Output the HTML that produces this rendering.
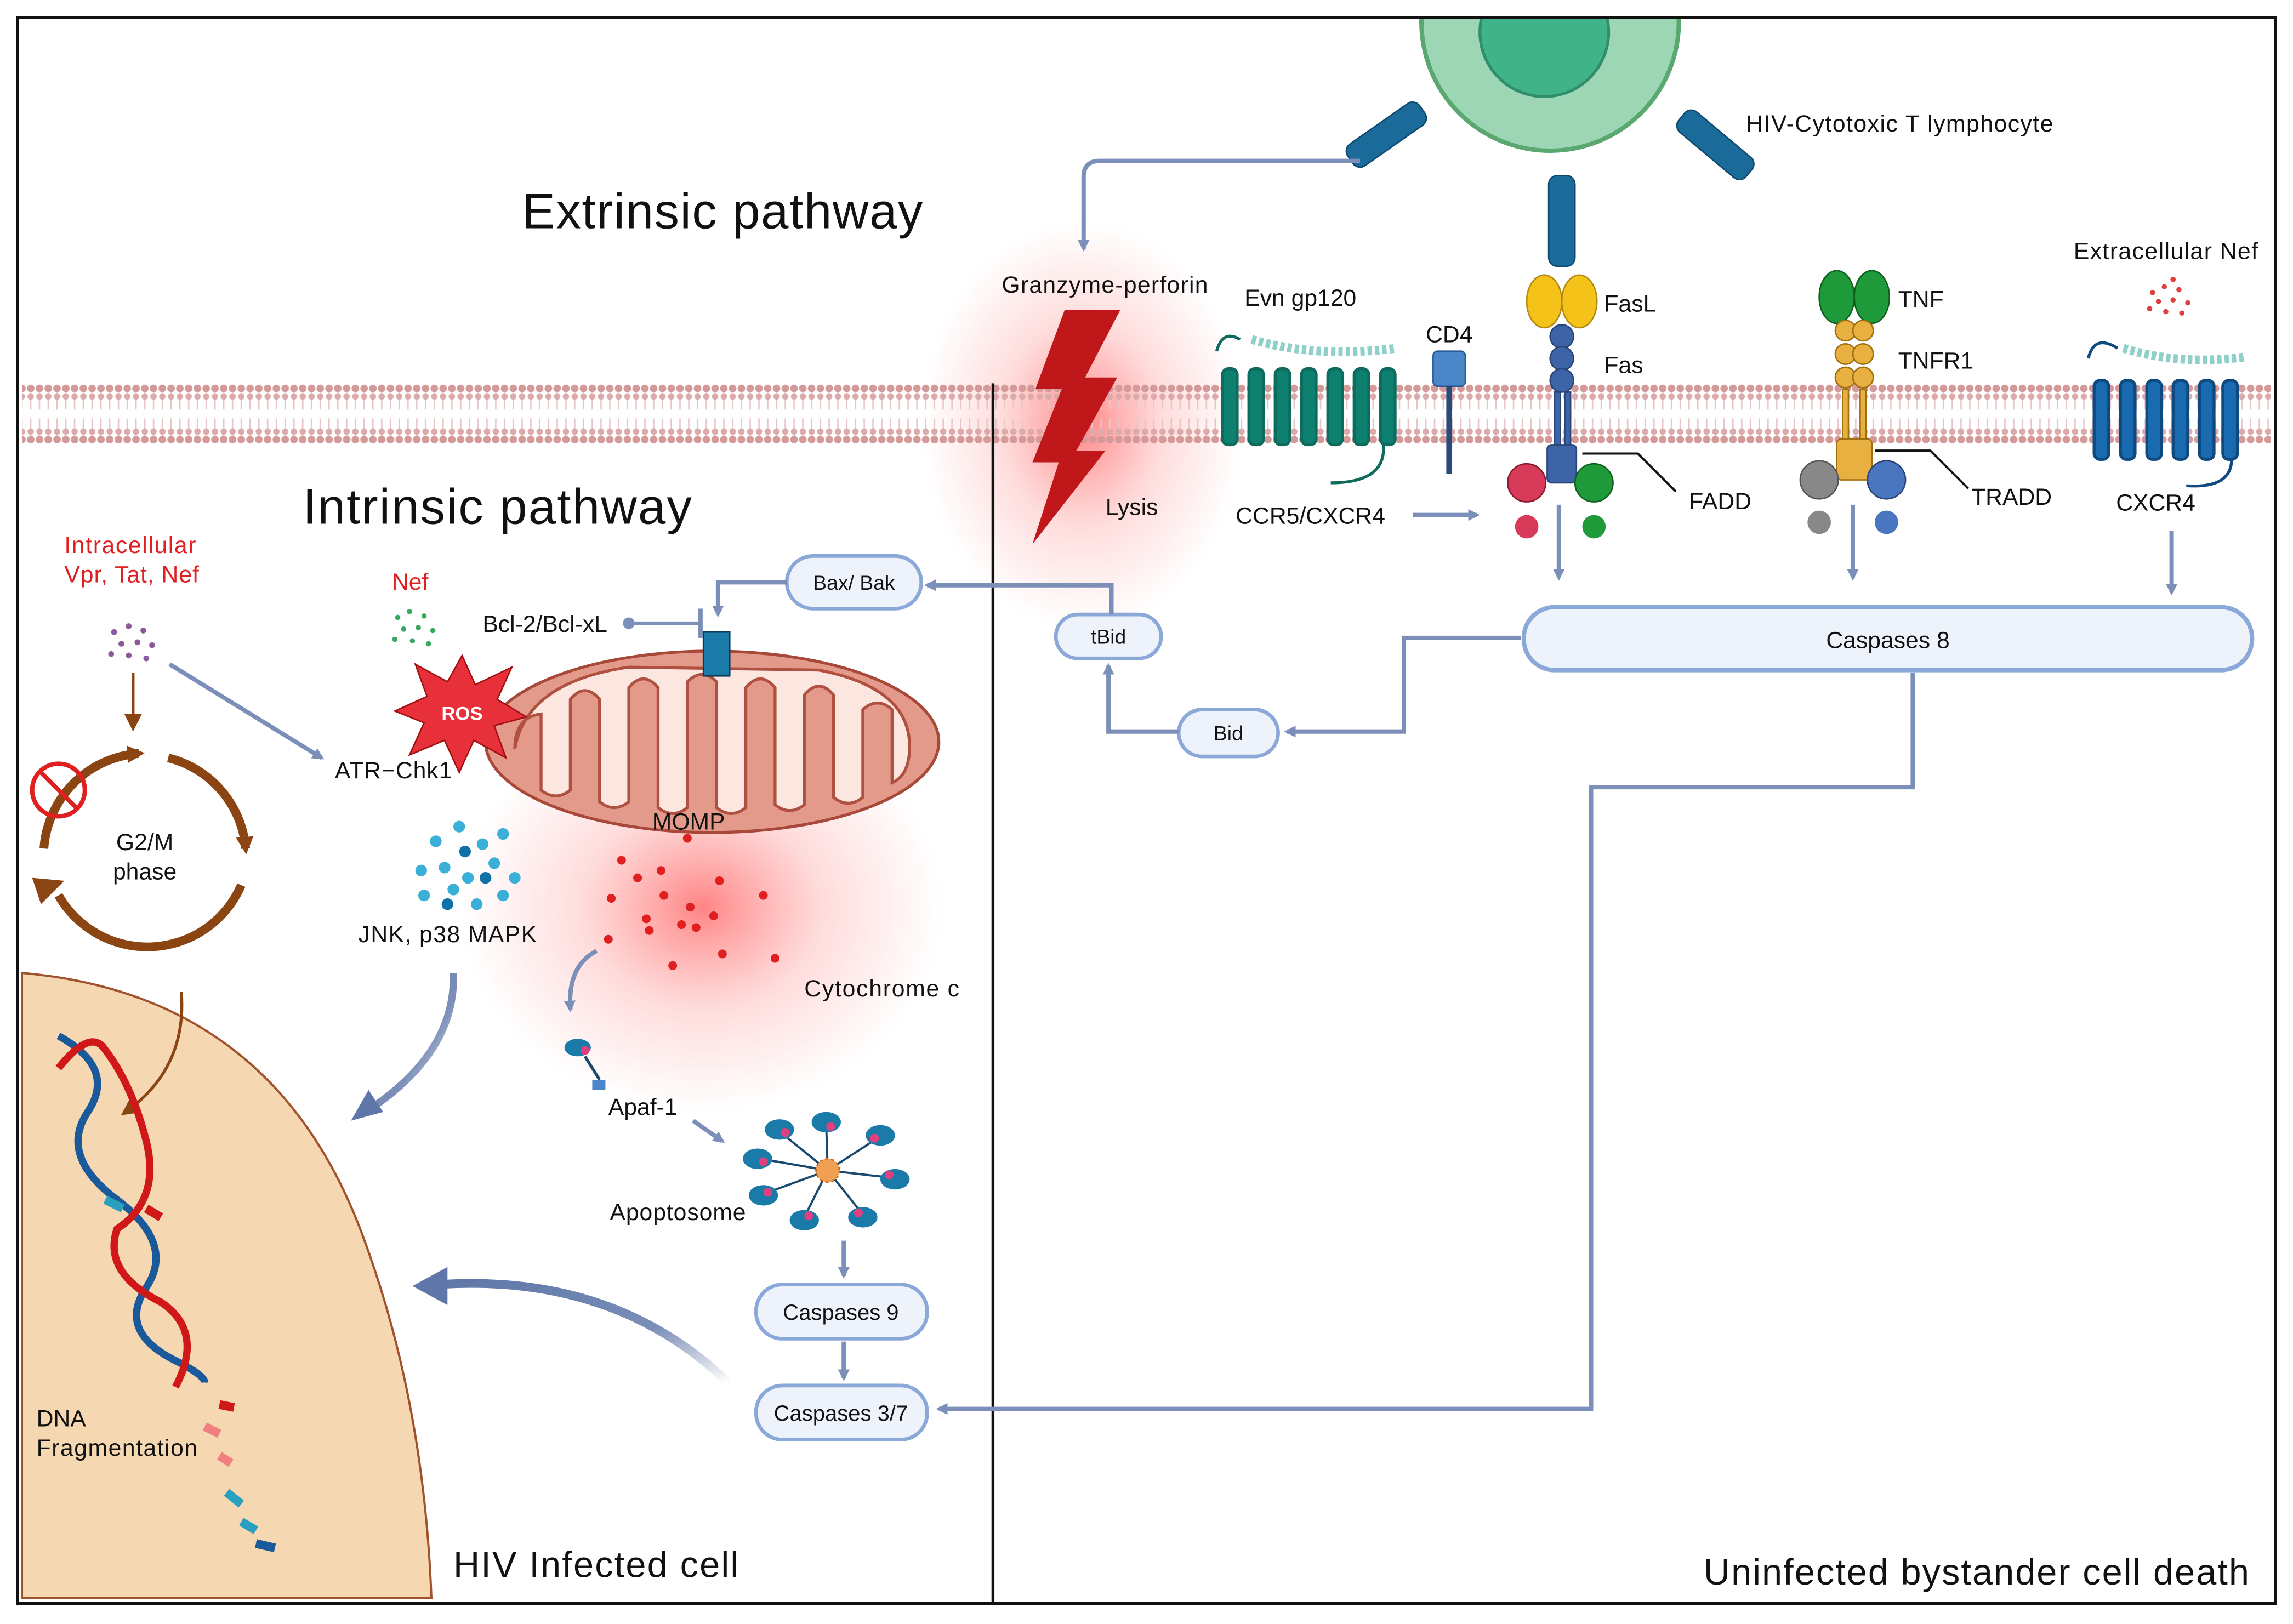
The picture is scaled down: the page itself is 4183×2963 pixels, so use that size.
<!DOCTYPE html>
<html><head><meta charset="utf-8"><style>
html,body{margin:0;padding:0;background:#fff;width:4183px;height:2963px;overflow:hidden}
svg{display:block}
text{font-family:"Liberation Sans",sans-serif;fill:#111}
</style></head><body>
<svg width="4183" height="2963" viewBox="0 0 1568 1110" preserveAspectRatio="none" xmlns="http://www.w3.org/2000/svg">
<defs>
<pattern id="mem" x="0" y="262" width="6" height="42" patternUnits="userSpaceOnUse">
<line x1="3" y1="5" x2="3" y2="18" stroke="#e9c6c6" stroke-width="1"/>
<line x1="3" y1="24" x2="3" y2="37" stroke="#e9c6c6" stroke-width="1"/>
<circle cx="3" cy="3.5" r="2.6" fill="#d49a9a"/>
<circle cx="3" cy="9" r="2.2" fill="#dcaaaa"/>
<circle cx="3" cy="33" r="2.2" fill="#dcaaaa"/>
<circle cx="3" cy="38.5" r="2.6" fill="#d49a9a"/>
</pattern>
<radialGradient id="glow"><stop offset="0" stop-color="#ff2020" stop-opacity=".55"/><stop offset=".5" stop-color="#ff5050" stop-opacity=".2"/><stop offset="1" stop-color="#ff6060" stop-opacity="0"/></radialGradient>
<marker id="ar" markerWidth="8" markerHeight="8" refX="6" refY="4" orient="auto" markerUnits="userSpaceOnUse"><path d="M0,0 L8,4 L0,8 z" fill="#7b8fb8"/></marker>
<marker id="arB" markerWidth="12" markerHeight="12" refX="8" refY="6" orient="auto" markerUnits="userSpaceOnUse"><path d="M0,0 L12,6 L0,12 z" fill="#8b4513"/></marker>
<linearGradient id="fade" x1="1" y1="1" x2="0" y2="0"><stop offset="0" stop-color="#7b8fb8" stop-opacity="0"/><stop offset=".4" stop-color="#7b8fb8"/><stop offset="1" stop-color="#5f77a8"/></linearGradient>
</defs>
<rect width="1568" height="1110" fill="#fff"/>
<ellipse cx="740" cy="290" rx="110" ry="140" fill="url(#glow)"/>
<ellipse cx="480" cy="620" rx="165" ry="140" fill="url(#glow)"/>
<rect x="15" y="262" width="1538" height="42" fill="url(#mem)"/>
<path d="M15,665 Q190,680 250,850 Q290,960 295,1092 L15,1092 Z" fill="#f5d7b2" stroke="#a0522d" stroke-width="1.5"/>
<rect x="12" y="12" width="1544" height="1084" fill="none" stroke="#111" stroke-width="2"/>
<line x1="679" y1="262" x2="679" y2="1096" stroke="#111" stroke-width="2"/>
<circle cx="1060" cy="15" r="88" fill="#9dd6b4" stroke="#5aa870" stroke-width="3"/>
<circle cx="1056" cy="22" r="44" fill="#40b38a" stroke="#2e8f6a" stroke-width="2"/>
<rect x="12" y="0" width="1544" height="12" fill="#fff"/>
<line x1="12" y1="12" x2="1556" y2="12" stroke="#111" stroke-width="2"/>
<g fill="#1a6a9a" stroke="#0e4a70" stroke-width="1">
<rect x="918" y="83" width="60" height="18" rx="6" transform="rotate(-35 948 92)"/>
<rect x="1143" y="90" width="60" height="18" rx="6" transform="rotate(40 1173 99)"/>
<rect x="1059" y="120" width="18" height="62" rx="6"/>
</g>
<text x="1194" y="90" font-size="16" textLength="210">HIV-Cytotoxic T lymphocyte</text>
<path d="M930,110 L752,110 Q741,110 741,121 L741,170" fill="none" stroke="#7b8fb8" stroke-width="3" marker-end="url(#ar)"/>
<text x="357" y="156" font-size="34" textLength="274">Extrinsic pathway</text>
<text x="207" y="358" font-size="34" textLength="266">Intrinsic pathway</text>
<text x="310" y="1078" font-size="25" textLength="195">HIV Infected cell</text>
<text x="1165" y="1083" font-size="25" textLength="373">Uninfected bystander cell death</text>
<path d="M728,212 L766,212 L742,258 L764,258 L736,308 L756,308 L706,372 L724,316 L706,316 L726,266 L708,266 Z" fill="#c0181a"/>
<text x="685" y="200" font-size="16" textLength="141">Granzyme-perforin</text>
<text x="756" y="352" font-size="16">Lysis</text>
<g stroke="#0f6b5e" stroke-width="2" fill="#0e8070">
<rect x="836" y="252" width="10" height="52" rx="4"/><rect x="854" y="252" width="10" height="52" rx="4"/><rect x="872" y="252" width="10" height="52" rx="4"/><rect x="890" y="252" width="10" height="52" rx="4"/><rect x="908" y="252" width="10" height="52" rx="4"/><rect x="926" y="252" width="10" height="52" rx="4"/><rect x="944" y="252" width="10" height="52" rx="4"/>
<path d="M832,240 Q836,225 848,232 M946,304 Q948,330 910,330" fill="none"/>
</g>
<path d="M856,232 Q900,245 955,238" fill="none" stroke="#8fd0c8" stroke-width="6" stroke-dasharray="3 2"/>
<text x="851" y="209" font-size="16">Evn gp120</text>
<text x="845" y="358" font-size="16">CCR5/CXCR4</text>
<line x1="966" y1="352" x2="1010" y2="352" stroke="#7b8fb8" stroke-width="3" marker-end="url(#ar)"/>
<rect x="980" y="240" width="22" height="24" rx="3" fill="#4a86c8" stroke="#2a5a98"/>
<line x1="991" y1="264" x2="991" y2="324" stroke="#2a4a78" stroke-width="4"/>
<text x="975" y="234" font-size="16">CD4</text>
<ellipse cx="1056" cy="206" rx="12" ry="18" fill="#f5c21a" stroke="#b08a10"/>
<ellipse cx="1080" cy="206" rx="12" ry="18" fill="#f5c21a" stroke="#b08a10"/>
<g fill="#3e64a8" stroke="#2a4478"><circle cx="1068" cy="230" r="8"/><circle cx="1068" cy="245" r="8"/><circle cx="1068" cy="260" r="8"/><rect x="1063" y="268" width="4" height="36"/><rect x="1070" y="268" width="4" height="36"/><rect x="1058" y="304" width="20" height="26" rx="3"/></g>
<text x="1097" y="213" font-size="16">FasL</text>
<text x="1097" y="255" font-size="16">Fas</text>
<circle cx="1044" cy="330" r="13" fill="#d83a5a" stroke="#8a1a30"/><circle cx="1044" cy="360" r="8" fill="#d83a5a"/>
<circle cx="1090" cy="330" r="13" fill="#1f9a3a" stroke="#106020"/><circle cx="1090" cy="360" r="8" fill="#1f9a3a"/>
<path d="M1082,310 L1120,310 L1146,336" fill="none" stroke="#111" stroke-width="1.5"/>
<text x="1155" y="348" font-size="16">FADD</text>
<line x1="1066" y1="345" x2="1066" y2="395" stroke="#7b8fb8" stroke-width="3" marker-end="url(#ar)"/>
<ellipse cx="1256" cy="203" rx="12" ry="18" fill="#1f9a3a" stroke="#106020"/>
<ellipse cx="1280" cy="203" rx="12" ry="18" fill="#1f9a3a" stroke="#106020"/>
<g fill="#e8b040" stroke="#a07010"><circle cx="1262" cy="226" r="7"/><circle cx="1274" cy="226" r="7"/><circle cx="1262" cy="242" r="7"/><circle cx="1274" cy="242" r="7"/><circle cx="1262" cy="258" r="7"/><circle cx="1274" cy="258" r="7"/><rect x="1260" y="266" width="4" height="36"/><rect x="1272" y="266" width="4" height="36"/><rect x="1256" y="300" width="24" height="28" rx="3"/></g>
<text x="1298" y="210" font-size="16">TNF</text>
<text x="1298" y="252" font-size="16">TNFR1</text>
<circle cx="1244" cy="328" r="13" fill="#888" stroke="#555"/><circle cx="1244" cy="357" r="8" fill="#888"/>
<circle cx="1290" cy="328" r="13" fill="#4a76c0" stroke="#2a4478"/><circle cx="1290" cy="357" r="8" fill="#4a76c0"/>
<path d="M1282,308 L1320,308 L1346,334" fill="none" stroke="#111" stroke-width="1.5"/>
<text x="1348" y="345" font-size="16">TRADD</text>
<line x1="1267" y1="345" x2="1267" y2="395" stroke="#7b8fb8" stroke-width="3" marker-end="url(#ar)"/>
<g stroke="#0e4a80" stroke-width="2" fill="#1a6ab0">
<rect x="1432" y="260" width="10" height="54" rx="4"/><rect x="1450" y="260" width="10" height="54" rx="4"/><rect x="1468" y="260" width="10" height="54" rx="4"/><rect x="1486" y="260" width="10" height="54" rx="4"/><rect x="1504" y="260" width="10" height="54" rx="4"/><rect x="1520" y="260" width="10" height="54" rx="4"/>
<path d="M1428,245 Q1432,228 1448,238 M1526,314 Q1526,334 1495,332" fill="none"/>
</g>
<path d="M1452,238 Q1490,250 1535,244" fill="none" stroke="#8fd0c8" stroke-width="6" stroke-dasharray="3 2"/>
<text x="1418" y="177" font-size="16" textLength="126">Extracellular Nef</text>
<g fill="#e04040"><circle cx="1472" cy="200" r="1.8"/><circle cx="1480" cy="196" r="1.8"/><circle cx="1490" cy="198" r="1.8"/><circle cx="1476" cy="206" r="1.8"/><circle cx="1486" cy="205" r="1.8"/><circle cx="1496" cy="207" r="1.8"/><circle cx="1470" cy="211" r="1.8"/><circle cx="1481" cy="213" r="1.8"/><circle cx="1492" cy="214" r="1.8"/><circle cx="1486" cy="191" r="1.8"/></g>
<text x="1447" y="349" font-size="16">CXCR4</text>
<line x1="1485" y1="363" x2="1485" y2="405" stroke="#7b8fb8" stroke-width="3" marker-end="url(#ar)"/>
<rect x="1042" y="415" width="498" height="43" rx="21" fill="#eef3fb" stroke="#8aa8d8" stroke-width="3"/>
<text x="1291" y="443" font-size="16" text-anchor="middle">Caspases 8</text>
<path d="M1040,436 L960,436 L960,500 L880,500" fill="none" stroke="#7b8fb8" stroke-width="3" marker-end="url(#ar)"/>
<path d="M1308,460 L1308,538 L1088,538 L1088,963 L642,963" fill="none" stroke="#7b8fb8" stroke-width="3" marker-end="url(#ar)"/>
<rect x="806" y="485" width="68" height="32" rx="16" fill="#eef3fb" stroke="#8aa8d8" stroke-width="2.5"/>
<text x="840" y="506" font-size="14" text-anchor="middle">Bid</text>
<path d="M806,500 L758,500 L758,455" fill="none" stroke="#7b8fb8" stroke-width="3" marker-end="url(#ar)"/>
<rect x="722" y="420" width="72" height="30" rx="15" fill="#eef3fb" stroke="#8aa8d8" stroke-width="2.5"/>
<text x="758" y="440" font-size="14" text-anchor="middle">tBid</text>
<path d="M760,420 L760,400 L634,400" fill="none" stroke="#7b8fb8" stroke-width="3" marker-end="url(#ar)"/>
<rect x="538" y="380" width="92" height="36" rx="18" fill="#eef3fb" stroke="#8aa8d8" stroke-width="2.5"/>
<text x="584" y="403" font-size="14" text-anchor="middle">Bax/ Bak</text>
<path d="M538,398 L491,398 L491,420" fill="none" stroke="#7b8fb8" stroke-width="3" marker-end="url(#ar)"/>
<text x="330" y="432" font-size="16">Bcl-2/Bcl-xL</text>
<circle cx="430" cy="426" r="4" fill="#7b8fb8"/>
<line x1="430" y1="426" x2="478" y2="426" stroke="#7b8fb8" stroke-width="2.5"/>
<line x1="479" y1="416" x2="479" y2="436" stroke="#7b8fb8" stroke-width="3"/>
<text x="268" y="403" font-size="16" style="fill:#e02020">Nef</text>
<g fill="#3aa860"><circle cx="272" cy="422" r="1.8"/><circle cx="280" cy="418" r="1.8"/><circle cx="290" cy="421" r="1.8"/><circle cx="276" cy="430" r="1.8"/><circle cx="286" cy="429" r="1.8"/><circle cx="296" cy="431" r="1.8"/><circle cx="270" cy="437" r="1.8"/><circle cx="282" cy="438" r="1.8"/><circle cx="293" cy="440" r="1.8"/></g>
<ellipse cx="487" cy="507" rx="155" ry="62" fill="#e49a8a" stroke="#a84838" stroke-width="2"/>
<path d="M352,512 Q352,490 370,488 L370,540 Q380,548 390,540 L390,478 Q400,466 410,478 L410,548 Q420,556 430,548 L430,470 Q440,458 450,470 L450,552 Q460,560 470,552 L470,466 Q480,456 490,466 L490,552 Q500,560 510,552 L510,470 Q520,458 530,470 L530,550 Q540,558 550,550 L550,475 Q560,463 570,475 L570,545 Q580,553 590,545 L590,485 Q600,476 610,485 L610,535 Q622,530 622,510 Q622,470 560,458 L430,456 Q360,466 352,512 Z" fill="#fbe6e0" stroke="#b05040" stroke-width="2"/>
<rect x="481" y="432" width="18" height="30" fill="#1a7aa8" stroke="#0e3a58"/>
<path d="M316,448 L325,468 L350,456 L340,478 L360,490 L338,496 L346,518 L324,506 L314,528 L304,506 L280,516 L290,494 L270,486 L292,476 L284,454 L306,466 Z" fill="#e8303a" stroke="#a01010"/>
<text x="316" y="492" font-size="13" font-weight="bold" text-anchor="middle" style="fill:#fff">ROS</text>
<text x="229" y="532" font-size="16" textLength="80">ATR−Chk1</text>
<text x="446" y="567" font-size="16">MOMP</text>
<text x="44" y="378" font-size="16" style="fill:#e02020" textLength="90">Intracellular</text>
<text x="44" y="398" font-size="16" style="fill:#e02020" textLength="92">Vpr, Tat, Nef</text>
<g fill="#8a5a9a"><circle cx="78" cy="432" r="2"/><circle cx="88" cy="428" r="2"/><circle cx="98" cy="431" r="2"/><circle cx="83" cy="440" r="2"/><circle cx="94" cy="439" r="2"/><circle cx="104" cy="441" r="2"/><circle cx="76" cy="447" r="2"/><circle cx="88" cy="448" r="2"/><circle cx="100" cy="450" r="2"/></g>
<line x1="116" y1="454" x2="220" y2="518" stroke="#7b8fb8" stroke-width="3" marker-end="url(#ar)"/>
<line x1="91" y1="460" x2="91" y2="496" stroke="#8b4513" stroke-width="2" marker-end="url(#arB)"/>
<path d="M30,580 A70,70 0 0 1 95,515" fill="none" stroke="#8b4513" stroke-width="6" marker-end="url(#arB)"/>
<path d="M115,518 A70,70 0 0 1 168,580" fill="none" stroke="#8b4513" stroke-width="6" marker-end="url(#arB)"/>
<path d="M165,605 A70,70 0 0 1 40,612" fill="none" stroke="#8b4513" stroke-width="6"/>
<path d="M28,618 L22,600 L44,602 Z" fill="#8b4513"/>
<text x="99" y="581" font-size="16" text-anchor="middle">G2/M</text>
<text x="99" y="601" font-size="16" text-anchor="middle">phase</text>
<circle cx="40" cy="540" r="18" fill="none" stroke="#e02020" stroke-width="3"/>
<line x1="28" y1="528" x2="52" y2="552" stroke="#e02020" stroke-width="3"/>
<path d="M124,678 Q128,730 86,760" fill="none" stroke="#8b4513" stroke-width="2" marker-end="url(#arB)"/>
<path d="M40,708 Q80,730 60,760 Q40,790 80,820 Q120,850 100,880 Q80,910 120,930 Q140,940 140,945" fill="none" stroke="#1a5a9a" stroke-width="5"/>
<path d="M40,730 Q60,705 70,715 Q90,740 100,780 Q110,820 80,840 Q70,870 110,890 Q140,910 120,948" fill="none" stroke="#d01818" stroke-width="5"/>
<g stroke-width="6"><line x1="150" y1="960" x2="160" y2="962" stroke="#d01818"/><line x1="140" y1="975" x2="150" y2="980" stroke="#f08080"/><line x1="150" y1="995" x2="158" y2="1000" stroke="#f08080"/><line x1="155" y1="1020" x2="165" y2="1028" stroke="#2aa0c0"/><line x1="165" y1="1040" x2="175" y2="1046" stroke="#2aa0c0"/><line x1="175" y1="1055" x2="188" y2="1058" stroke="#1a5a9a"/><line x1="72" y1="820" x2="84" y2="826" stroke="#2aa0c0"/><line x1="100" y1="826" x2="110" y2="832" stroke="#d01818"/></g>
<text x="25" y="975" font-size="16">DNA</text>
<text x="25" y="995" font-size="16" textLength="110">Fragmentation</text>
<g fill="#3ab0d8"><circle cx="298" cy="575" r="4"/><circle cx="314" cy="565" r="4"/><circle cx="330" cy="577" r="4"/><circle cx="344" cy="570" r="4"/><circle cx="288" cy="595" r="4"/><circle cx="304" cy="593" r="4"/><circle cx="320" cy="600" r="4"/><circle cx="338" cy="590" r="4"/><circle cx="352" cy="600" r="4"/><circle cx="290" cy="612" r="4"/><circle cx="310" cy="608" r="4"/><circle cx="326" cy="618" r="4"/><circle cx="344" cy="612" r="4"/></g>
<g fill="#1070a8"><circle cx="318" cy="582" r="4"/><circle cx="332" cy="600" r="4"/><circle cx="306" cy="618" r="4"/></g>
<text x="245" y="644" font-size="16" textLength="122">JNK, p38 MAPK</text>
<path d="M310,665 Q312,720 250,760" fill="none" stroke="url(#fade)" stroke-width="5"/>
<path d="M240,766 L252,745 L262,760 Z" fill="#5f77a8"/>
<g fill="#e02020"><circle cx="425" cy="588" r="3"/><circle cx="470" cy="573" r="3"/><circle cx="452" cy="595" r="3"/><circle cx="492" cy="602" r="3"/><circle cx="418" cy="614" r="3"/><circle cx="454" cy="612" r="3"/><circle cx="472" cy="620" r="3"/><circle cx="522" cy="612" r="3"/><circle cx="442" cy="628" r="3"/><circle cx="466" cy="632" r="3"/><circle cx="488" cy="626" r="3"/><circle cx="416" cy="642" r="3"/><circle cx="444" cy="636" r="3"/><circle cx="476" cy="634" r="3"/><circle cx="494" cy="652" r="3"/><circle cx="530" cy="655" r="3"/><circle cx="460" cy="660" r="3"/><circle cx="436" cy="600" r="3"/></g>
<text x="550" y="681" font-size="16" textLength="106">Cytochrome c</text>
<path d="M408,650 Q388,660 390,690" fill="none" stroke="#7b8fb8" stroke-width="3" marker-end="url(#ar)"/>
<ellipse cx="395" cy="716" rx="9" ry="6" fill="#1a7aa8"/><circle cx="400" cy="718" r="3" fill="#e04080"/><line x1="400" y1="722" x2="410" y2="738" stroke="#1a4a70" stroke-width="2"/><rect x="405" y="738" width="9" height="7" fill="#4a86c8"/>
<text x="416" y="762" font-size="16">Apaf-1</text>
<line x1="474" y1="766" x2="494" y2="780" stroke="#7b8fb8" stroke-width="3" marker-end="url(#ar)"/>
<g stroke="#1a4a70" stroke-width="1.5"><line x1="566" y1="800" x2="535" y2="775"/><line x1="566" y1="800" x2="565" y2="770"/><line x1="566" y1="800" x2="600" y2="778"/><line x1="566" y1="800" x2="610" y2="805"/><line x1="566" y1="800" x2="590" y2="830"/><line x1="566" y1="800" x2="550" y2="832"/><line x1="566" y1="800" x2="525" y2="815"/><line x1="566" y1="800" x2="520" y2="792"/></g>
<g fill="#1a7aa8"><ellipse cx="533" cy="772" rx="10" ry="7"/><ellipse cx="565" cy="767" rx="10" ry="7"/><ellipse cx="602" cy="776" rx="10" ry="7"/><ellipse cx="612" cy="806" rx="10" ry="7"/><ellipse cx="590" cy="832" rx="10" ry="7"/><ellipse cx="550" cy="834" rx="10" ry="7"/><ellipse cx="522" cy="817" rx="10" ry="7"/><ellipse cx="518" cy="792" rx="10" ry="7"/></g>
<g fill="#e04080"><circle cx="537" cy="774" r="3"/><circle cx="568" cy="770" r="3"/><circle cx="598" cy="778" r="3"/><circle cx="608" cy="803" r="3"/><circle cx="587" cy="829" r="3"/><circle cx="553" cy="831" r="3"/><circle cx="525" cy="815" r="3"/><circle cx="522" cy="794" r="3"/></g>
<circle cx="566" cy="800" r="8" fill="#f0a050" stroke="#d06020" stroke-dasharray="2 2"/>
<text x="417" y="834" font-size="16" textLength="93">Apoptosome</text>
<line x1="577" y1="848" x2="577" y2="872" stroke="#7b8fb8" stroke-width="3" marker-end="url(#ar)"/>
<rect x="517" y="878" width="117" height="37" rx="18" fill="#eef3fb" stroke="#8aa8d8" stroke-width="2.5"/>
<text x="575" y="902" font-size="15" text-anchor="middle">Caspases 9</text>
<line x1="577" y1="917" x2="577" y2="942" stroke="#7b8fb8" stroke-width="3" marker-end="url(#ar)"/>
<rect x="517" y="947" width="117" height="37" rx="18" fill="#eef3fb" stroke="#8aa8d8" stroke-width="2.5"/>
<text x="575" y="971" font-size="15" text-anchor="middle">Caspases 3/7</text>
<path d="M498,945 Q420,870 300,878" fill="none" stroke="url(#fade)" stroke-width="6"/>
<path d="M282,879 L306,866 L306,892 Z" fill="#5f77a8"/>
</svg>
</body></html>
